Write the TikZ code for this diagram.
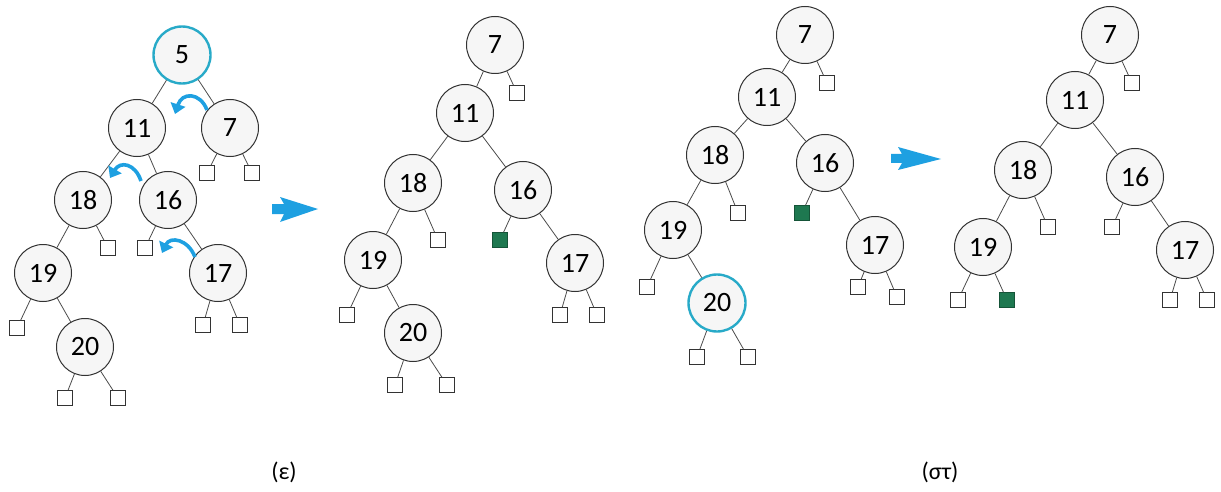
\documentclass[tikz,border=0pt]{standalone}
\usepackage{fontspec}
\setmainfont{Carlito}
\usetikzlibrary{arrows.meta}
\definecolor{hl}{RGB}{40,170,200}
\definecolor{arr}{RGB}{30,160,225}
\definecolor{grn}{RGB}{30,120,80}
\tikzset{
 key/.style={circle, draw=black!80, fill=gray!7, line width=1pt, minimum size=57pt, inner sep=0pt, font=\fontsize{28}{28}\selectfont},
 hlkey/.style={key, draw=hl, line width=2.4pt},
 leaf/.style={rectangle, draw=black!80, fill=white, line width=1pt, minimum size=14.5pt, inner sep=0pt},
 gleaf/.style={leaf, fill=grn, draw=grn!70!black},
 edge/.style={draw=black!70, line width=0.8pt},
 rot/.style={draw=arr, line width=3.6pt, -{Triangle[length=10pt,width=15pt]}},
 bigarrow/.style={fill=arr, draw=none},
 captext/.style={font=\fontsize{24}{24}\selectfont}
}
\begin{document}
\begin{tikzpicture}[x=1pt,y=-1pt]
\useasboundingbox (0,0) rectangle (1221,492);
% tree (e) left
\node[hlkey] (a5) at (182,55) {5};
\node[key] (a11) at (137,128) {11};
\node[key] (a7) at (230,128) {7};
\node[leaf] (a7l) at (207,173) {};
\node[leaf] (a7r) at (252,173) {};
\node[key] (a18) at (83,200) {18};
\node[key] (a16) at (168,200) {16};
\node[leaf] (a18r) at (108,248) {};
\node[leaf] (a16l) at (145,248) {};
\node[key] (a19) at (43,273) {19};
\node[key] (a17) at (218,273) {17};
\node[leaf] (a19l) at (17,328) {};
\node[key] (a20) at (85,347) {20};
\node[leaf] (a17l) at (203,325) {};
\node[leaf] (a17r) at (240,325) {};
\node[leaf] (a20l) at (65,398) {};
\node[leaf] (a20r) at (118,398) {};
\foreach \p/\c in {a5/a11,a5/a7,a7/a7l,a7/a7r,a11/a18,a11/a16,a18/a19,a18/a18r,a16/a16l,a16/a17,a19/a19l,a19/a20,a17/a17l,a17/a17r,a20/a20l,a20/a20r}
  \draw[edge] (\p) -- (\c);
\coordinate (r1s) at (207,110); \coordinate (r1e) at (175,114);
\coordinate (r2s) at (141,181); \coordinate (r2e) at (110,178);
\coordinate (r3s) at (195,257); \coordinate (r3e) at (162,253);
\draw[rot] (r1s) .. controls (200,92) and (182,92) .. (r1e);
\draw[rot] (r2s) .. controls (135,163) and (120,161) .. (r2e);
\draw[rot] (r3s) .. controls (188,239) and (170,236) .. (r3e);
\fill[bigarrow] (272,204) -- (284,204) -- (280,197) -- (318,209) -- (280,222) -- (284,214) -- (272,214) -- cycle;
% tree (e) right
\node[key] (b7) at (495,45) {7};
\node[leaf] (b7r) at (517,93) {};
\node[key] (b11) at (465,113) {11};
\node[key] (b18) at (413,183) {18};
\node[key] (b16) at (523,190) {16};
\node[leaf] (b18r) at (438,240) {};
\node[gleaf] (b16l) at (500,240) {};
\node[key] (b19) at (373,260) {19};
\node[key] (b17) at (575,263) {17};
\node[leaf] (b19l) at (347,315) {};
\node[key] (b20) at (413,333) {20};
\node[leaf] (b17l) at (560,315) {};
\node[leaf] (b17r) at (597,315) {};
\node[leaf] (b20l) at (395,385) {};
\node[leaf] (b20r) at (447,385) {};
\foreach \p/\c in {b7/b11,b7/b7r,b11/b18,b11/b16,b18/b19,b18/b18r,b16/b16l,b16/b17,b19/b19l,b19/b20,b17/b17l,b17/b17r,b20/b20l,b20/b20r}
  \draw[edge] (\p) -- (\c);
% tree (st) left
\node[key] (c7) at (805,35) {7};
\node[leaf] (c7r) at (827,83) {};
\node[key] (c11) at (767,97) {11};
\node[key] (c18) at (715,155) {18};
\node[key] (c16) at (825,163) {16};
\node[leaf] (c18r) at (738,213) {};
\node[gleaf] (c16l) at (802,213) {};
\node[key] (c19) at (673,230) {19};
\node[key] (c17) at (875,245) {17};
\node[leaf] (c19l) at (647,287) {};
\node[hlkey] (c20) at (717,303) {20};
\node[leaf] (c17l) at (858,287) {};
\node[leaf] (c17r) at (897,297) {};
\node[leaf] (c20l) at (697,357) {};
\node[leaf] (c20r) at (748,357) {};
\foreach \p/\c in {c7/c11,c7/c7r,c11/c18,c11/c16,c18/c19,c18/c18r,c16/c16l,c16/c17,c19/c19l,c19/c20,c17/c17l,c17/c17r,c20/c20l,c20/c20r}
  \draw[edge] (\p) -- (\c);
\fill[bigarrow] (891,154) -- (902,154) -- (898,147) -- (941,159) -- (898,170) -- (902,163) -- (891,163) -- cycle;
% tree (st) right
\node[key] (d7) at (1110,35) {7};
\node[leaf] (d7r) at (1132,83) {};
\node[key] (d11) at (1075,100) {11};
\node[key] (d18) at (1023,170) {18};
\node[key] (d16) at (1135,177) {16};
\node[leaf] (d18r) at (1048,227) {};
\node[leaf] (d16l) at (1112,227) {};
\node[key] (d19) at (983,247) {19};
\node[key] (d17) at (1185,250) {17};
\node[leaf] (d19l) at (958,300) {};
\node[gleaf] (d19r) at (1007,300) {};
\node[leaf] (d17l) at (1170,300) {};
\node[leaf] (d17r) at (1207,300) {};
\foreach \p/\c in {d7/d11,d7/d7r,d11/d18,d11/d16,d18/d19,d18/d18r,d16/d16l,d16/d17,d19/d19l,d19/d19r,d17/d17l,d17/d17r}
  \draw[edge] (\p) -- (\c);
% captions
\node[captext] (l1) at (284,472) {(ε)};
\node[captext] (l2) at (940,472) {(στ)};
\end{tikzpicture}
\end{document}
